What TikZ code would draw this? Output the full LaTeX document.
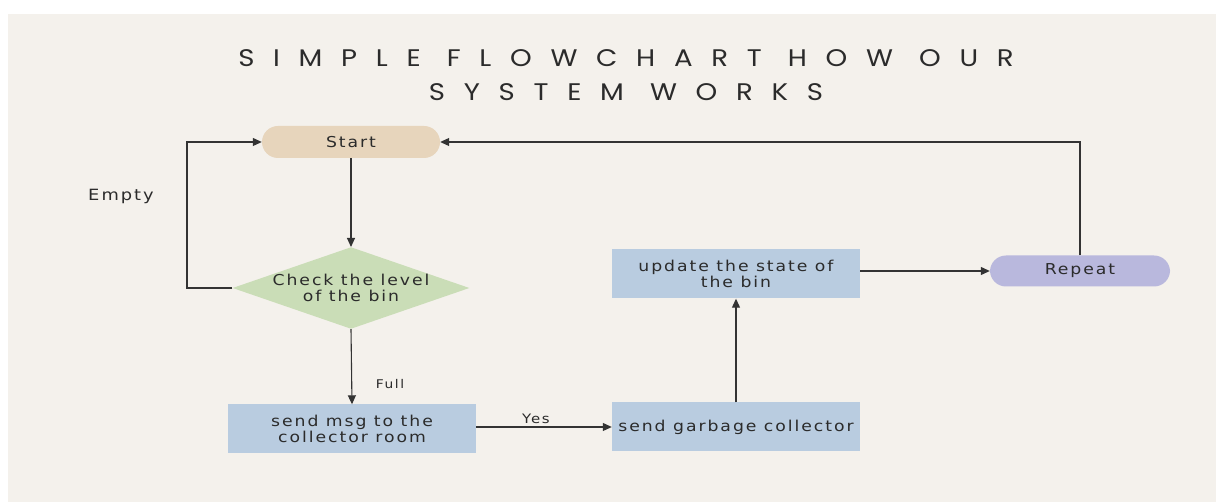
\documentclass[tikz,border=0pt]{standalone}
\usepackage{fontspec}
\setmainfont{DejaVu Sans}[LetterSpace=13, FakeStretch=1.15]
\newfontfamily\titlefont{Poppins}[LetterSpace=78, FakeStretch=1.15]
\usetikzlibrary{shapes.geometric,arrows.meta}
\definecolor{bgc}{HTML}{F4F1EC}
\definecolor{startc}{HTML}{E7D5BC}
\definecolor{diac}{HTML}{CADDB7}
\definecolor{boxc}{HTML}{B9CCE0}
\definecolor{repc}{HTML}{B9B8DD}
\definecolor{txtc}{HTML}{2B2B2B}
\definecolor{linec}{HTML}{333333}
\tikzset{
  pill/.style={rectangle, rounded corners=16pt, inner sep=0pt, text=txtc,
    font=\fontsize{15}{16}\selectfont},
  procbox/.style={rectangle, fill=boxc, inner sep=0pt, minimum width=248pt,
    minimum height=49pt, align=center, text=txtc, font=\fontsize{15}{16}\selectfont},
  decision/.style={diamond, fill=diac, inner sep=0pt, minimum width=233pt,
    minimum height=80pt, aspect=2.9, align=center, text=txtc,
    font=\fontsize{15}{16}\selectfont},
  arr/.style={draw=linec, line width=1.1pt, -{Triangle[length=9pt,width=8pt]}},
  lbl/.style={text=txtc, inner sep=0pt},
}
\begin{document}
\begin{tikzpicture}[x=1pt,y=-1pt]
\useasboundingbox (0,0) rectangle (1216,502);
\fill[white] (0,0) rectangle (1216,502);
\fill[bgc] (8,14) rectangle (1216,502);
\node[lbl, align=center, font=\titlefont\fontsize{24}{34}\selectfont] (title) at (626,75)
  {SIMPLE FLOWCHART HOW OUR\\SYSTEM WORKS};
\node[pill, fill=startc, minimum width=178pt, minimum height=32pt] (start) at (351,142) {Start};
\node[decision] (check) at (351,288) {Check the level\\of the bin};
\node[procbox] (msg) at (352,429) {send msg to the\\collector room};
\node[procbox] (garb) at (736,427) {send garbage collector};
\node[procbox] (update) at (736,274) {update the state of\\the bin};
\node[pill, fill=repc, minimum width=180pt, minimum height=31pt] (repeat) at (1080,271) {Repeat};
\coordinate (eloop) at (187,288);
\draw[arr] (start.south) -- (check.north);
\draw[arr] (check.south) -- (msg.north);
\draw[arr] (msg.east |- garb.west) -- (garb.west);
\draw[arr] (garb.north) -- (update.south);
\draw[arr] (update.east |- repeat.west) -- (repeat.west);
\draw[arr] (repeat.north) |- (start.east);
\draw[arr] (check.west) -- (eloop) |- (start.west);
\node[lbl, font=\fontsize{12}{13}\selectfont] (full) at (390,384) {Full};
\node[lbl, font=\fontsize{13}{14}\selectfont] (yes) at (536,419) {Yes};
\node[lbl, font=\fontsize{15.5}{16}\selectfont] (empty) at (121,196) {Empty};
\end{tikzpicture}
\end{document}
